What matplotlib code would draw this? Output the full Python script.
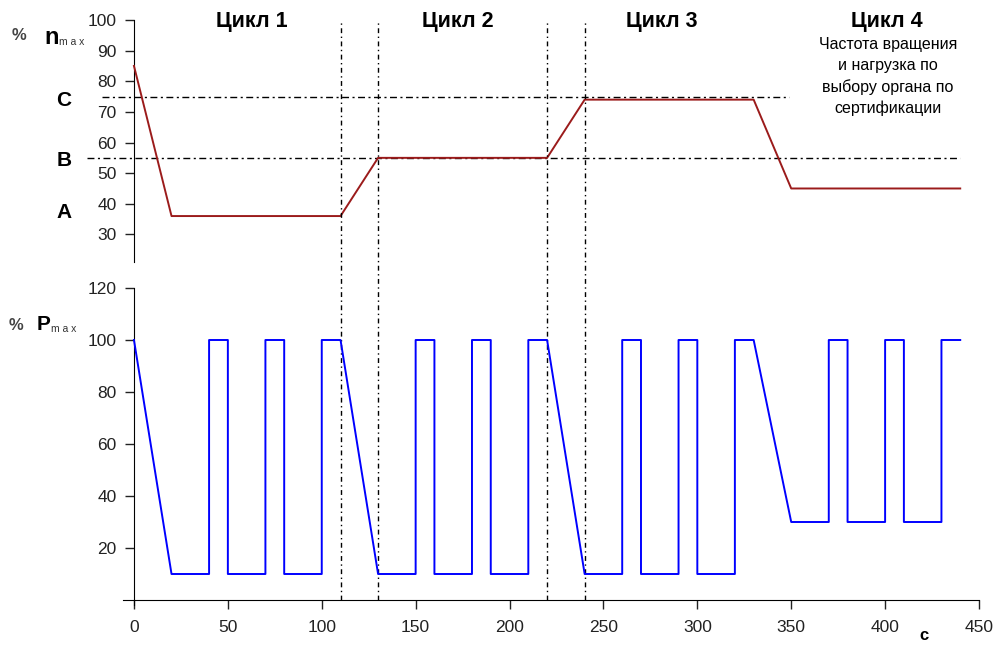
import numpy as np
import matplotlib
matplotlib.use("Agg")
from matplotlib import pyplot as plt
from matplotlib import transforms

plt.rcParams['font.family'] = ['Liberation Sans', 'DejaVu Sans']

# speed profile, % n_max
n_t = [0, 20, 110, 130, 220, 240, 330, 350, 440]
n_val = [85, 36, 36, 55, 55, 74, 74, 45, 45]

# load profile, % P_max
p_t = [0, 20, 40, 40, 50, 50, 70, 70, 80, 80, 100, 100, 110,
       130, 150, 150, 160, 160, 180, 180, 190, 190, 210, 210, 220,
       240, 260, 260, 270, 270, 290, 290, 300, 300, 320, 320, 330,
       350, 370, 370, 380, 380, 400, 400, 410, 410, 430, 430, 440]
p_val = [100, 10, 10, 100, 100, 10, 10, 100, 100, 10, 10, 100, 100,
         10, 10, 100, 100, 10, 10, 100, 100, 10, 10, 100, 100,
         10, 10, 100, 100, 10, 10, 100, 100, 10, 10, 100, 100,
         30, 30, 100, 100, 30, 30, 100, 100, 30, 30, 100, 100]

cycle_bounds = [110, 130, 220, 240]
level_C = 75
level_B = 55
cycles = ["Цикл 1", "Цикл 2", "Цикл 3", "Цикл 4"]
cycle_x = [252, 458, 662, 887]
note = ["Частота вращения", "и нагрузка по", "выбору органа по", "сертификации"]

W, H = 997, 645
fig = plt.figure(figsize=(W / 100, H / 100), dpi=100)


def fx(px):
    return px / W


def fy(py):
    return 1 - py / H


ax1 = fig.add_axes([fx(122.7), fy(262), fx(979) - fx(122.7), fy(20) - fy(262)])
ax2 = fig.add_axes([fx(122.7), fy(605.2), fx(979) - fx(122.7), fy(288) - fy(605.2)])

tick_kw = dict(labelsize=12.5, length=6.5, width=1, color='#222222', labelcolor='#222222')

# top panel
ax1.plot(n_t, n_val, color='#9B1B1B', lw=1.4, zorder=3)
ax1.set_xlim(-6, 450)
ax1.set_ylim(21, 100)
ax1.set_yticks(np.arange(30, 101, 10))
ax1.set_xticks([])
for s in ['top', 'right', 'bottom']:
    ax1.spines[s].set_visible(False)
ax1.spines['left'].set_position(('data', 0))
ax1.tick_params(axis='y', pad=6, **tick_kw)
ax1.patch.set_alpha(0)

ax1.plot([-17, 349], [level_C, level_C], color='black', lw=1,
         dashes=(5, 2.5, 1.5, 2.5), clip_on=False)
ax1.plot([-25, 440], [level_B, level_B], color='black', lw=1,
         dashes=(5, 2.5, 1.5, 2.5), clip_on=False)

# bottom panel
ax2.plot(p_t, p_val, color='#0000FF', lw=1.4, zorder=3)
ax2.set_xlim(-6, 450)
ax2.set_ylim(-2, 120)
ax2.set_yticks(np.arange(20, 121, 20))
ax2.set_xticks(np.arange(0, 451, 50))
for s in ['top', 'right']:
    ax2.spines[s].set_visible(False)
ax2.spines['left'].set_position(('data', 0))
ax2.spines['bottom'].set_position(('data', 0))
ax2.tick_params(axis='y', pad=6, **tick_kw)
ax2.tick_params(axis='x', pad=8, **tick_kw)
ax2.patch.set_alpha(0)

# vertical cycle boundaries across both panels
tr = transforms.blended_transform_factory(ax2.transData, fig.transFigure)
for xb in cycle_bounds:
    ax2.plot([xb, xb], [fy(600), fy(22)], transform=tr, color='black', lw=1,
             dashes=(3.5, 2.5, 1, 2.5), clip_on=False)

# texts
for name, cx in zip(cycles, cycle_x):
    fig.text(fx(cx), fy(22), name, ha='center', va='center',
             fontsize=15.5, fontweight='bold')
for i, line in enumerate(note):
    fig.text(fx(888), fy(44 + 21.5 * i), line, ha='center', va='center', fontsize=11.5)

for lbl, py in zip(["C", "B", "A"], [100, 160, 213]):
    fig.text(fx(64), fy(py), lbl, ha='center', va='center', fontsize=15, fontweight='bold')

fig.text(fx(12), fy(36), "%", ha='left', va='center', fontsize=12, fontweight='bold', color='#444444')
fig.text(fx(44), fy(38), "n", ha='left', va='center', fontsize=17, fontweight='bold')
fig.text(fx(59), fy(42), "m a x", ha='left', va='center', fontsize=7.5, color='#333333')

fig.text(fx(9), fy(326), "%", ha='left', va='center', fontsize=12, fontweight='bold', color='#444444')
fig.text(fx(37), fy(325), "P", ha='left', va='center', fontsize=15, fontweight='bold')
fig.text(fx(51), fy(329), "m a x", ha='left', va='center', fontsize=7.5, color='#333333')

fig.text(fx(924), fy(635), "c", ha='center', va='center', fontsize=12, fontweight='bold')

fig.savefig("out.png", dpi=100)
